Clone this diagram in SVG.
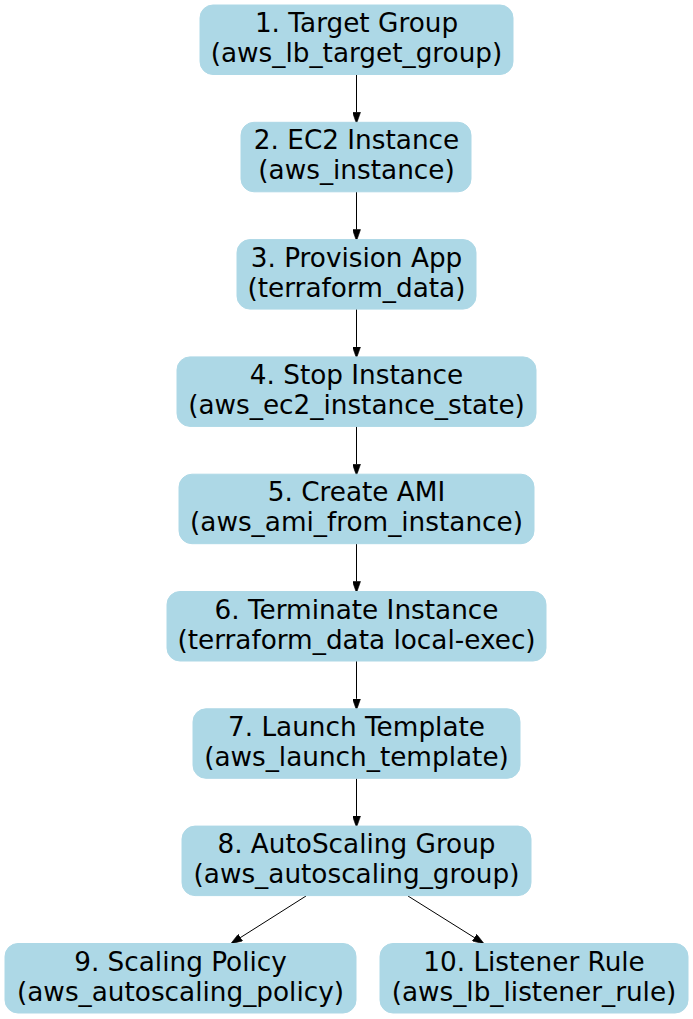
<svg xmlns="http://www.w3.org/2000/svg" width="693" height="1019" viewBox="0 0 693 1019">
<style>
.n rect{fill:#add8e6;stroke:#add8e6;stroke-width:1}
.n text{font-family:"DejaVu Sans",sans-serif;font-size:26.3px;fill:#000;text-anchor:middle}
.e line{stroke:#000;stroke-width:1;fill:none}
</style>
<defs>
<marker id="ah" markerUnits="userSpaceOnUse" markerWidth="12" markerHeight="8" refX="0" refY="3.5" orient="auto" viewBox="0 0 10 7">
<polygon points="0,0 10,3.5 0,7" fill="#000" stroke="#000" stroke-width="0.5"/>
</marker>
</defs>
<rect width="693" height="1019" fill="#fff"/>
<g class="e" id="edges">
<line x1="356.5" y1="74.5" x2="356.5" y2="112.3" marker-end="url(#ah)"/>
<line x1="356.5" y1="191.8" x2="356.5" y2="229.6" marker-end="url(#ah)"/>
<line x1="356.5" y1="309.1" x2="356.5" y2="346.9" marker-end="url(#ah)"/>
<line x1="356.5" y1="426.4" x2="356.5" y2="464.2" marker-end="url(#ah)"/>
<line x1="356.5" y1="543.7" x2="356.5" y2="581.5" marker-end="url(#ah)"/>
<line x1="356.5" y1="661" x2="356.5" y2="698.8" marker-end="url(#ah)"/>
<line x1="356.5" y1="778.3" x2="356.5" y2="816.1" marker-end="url(#ah)"/>
<line x1="306" y1="896" x2="240.4" y2="937.6" marker-end="url(#ah)"/>
<line x1="408" y1="896" x2="474.5" y2="937.7" marker-end="url(#ah)"/>
</g>
<g class="n" id="n1"><rect x="200" y="5" width="313" height="69.5" rx="13"/><text x="356.5" y="32">1. Target Group</text><text x="356.5" y="62">(aws_lb_target_group)</text></g>
<g class="n" id="n2"><rect x="241" y="122.3" width="230" height="69.5" rx="13"/><text x="356.5" y="149.3">2. EC2 Instance</text><text x="356.5" y="179.3">(aws_instance)</text></g>
<g class="n" id="n3"><rect x="237" y="239.6" width="239" height="69.5" rx="13"/><text x="356.5" y="266.6">3. Provision App</text><text x="356.5" y="296.6">(terraform_data)</text></g>
<g class="n" id="n4"><rect x="177" y="356.9" width="359" height="69.5" rx="13"/><text x="356.5" y="383.9">4. Stop Instance</text><text x="356.5" y="413.9">(aws_ec2_instance_state)</text></g>
<g class="n" id="n5"><rect x="179" y="474.2" width="355" height="69.5" rx="13"/><text x="356.5" y="501.2">5. Create AMI</text><text x="356.5" y="531.2">(aws_ami_from_instance)</text></g>
<g class="n" id="n6"><rect x="167" y="591.5" width="379" height="69.5" rx="13"/><text x="356.5" y="618.5">6. Terminate Instance</text><text x="356.5" y="648.5">(terraform_data local-exec)</text></g>
<g class="n" id="n7"><rect x="193" y="708.8" width="327" height="69.5" rx="13"/><text x="356.5" y="735.8">7. Launch Template</text><text x="356.5" y="765.8">(aws_launch_template)</text></g>
<g class="n" id="n8"><rect x="182" y="826.1" width="349" height="69.5" rx="13"/><text x="356.5" y="853.1">8. AutoScaling Group</text><text x="356.5" y="883.1">(aws_autoscaling_group)</text></g>
<g class="n" id="n9"><rect x="5" y="943.5" width="351" height="69.5" rx="13"/><text x="180.5" y="970.5">9. Scaling Policy</text><text x="180.5" y="1000.5">(aws_autoscaling_policy)</text></g>
<g class="n" id="n10"><rect x="380" y="943.5" width="308" height="69.5" rx="13"/><text x="534" y="970.5">10. Listener Rule</text><text x="534" y="1000.5">(aws_lb_listener_rule)</text></g>
</svg>
